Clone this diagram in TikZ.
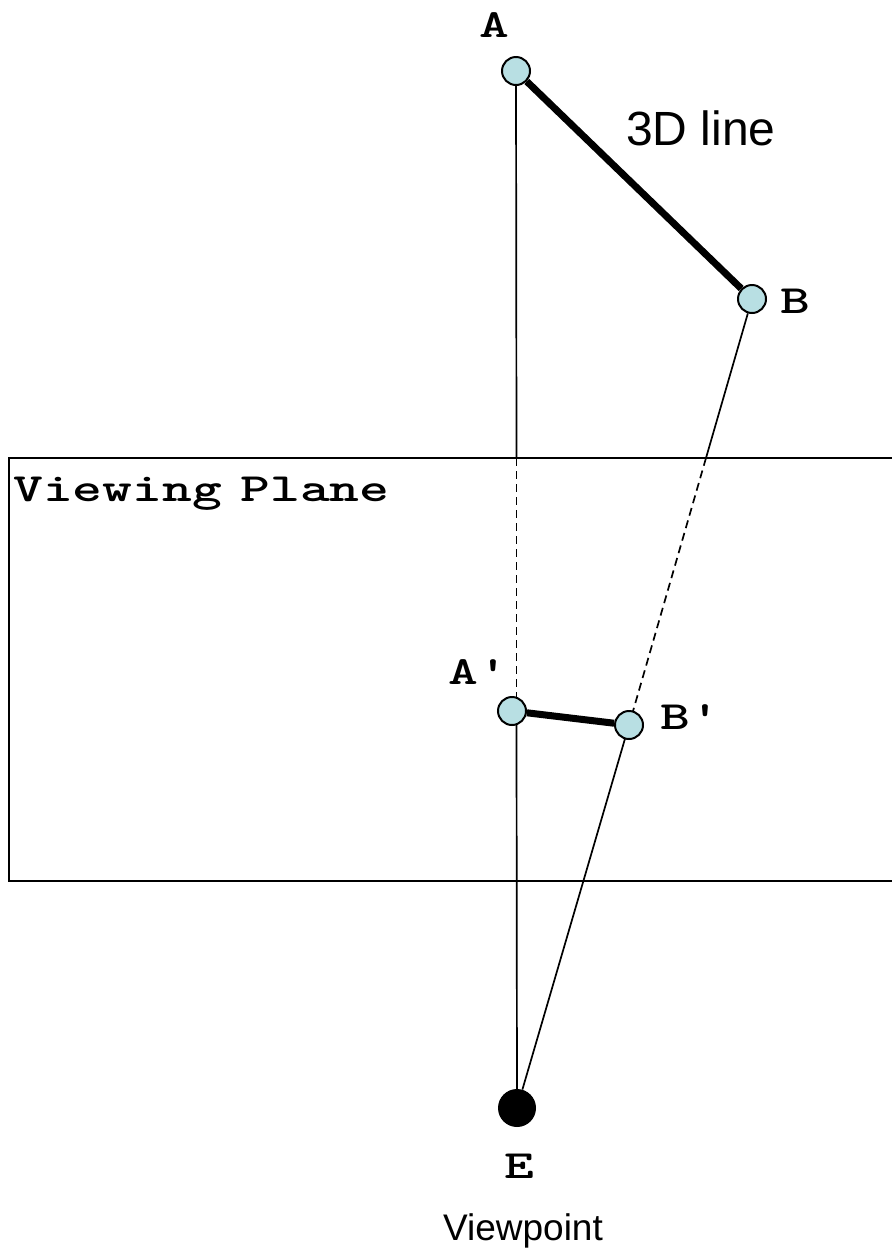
\documentclass[tikz,border=0pt]{standalone}
\usepackage{fontspec}
\setmainfont{Liberation Sans}
\definecolor{ptfill}{RGB}{184,223,227}
\begin{document}
\begin{tikzpicture}[x=1pt,y=-1pt,
 pt/.style={circle,draw=black,fill=ptfill,line width=2pt,minimum size=28pt,inner sep=0pt},
 eye/.style={circle,fill=black,minimum size=38pt,inner sep=0pt},
 thin line/.style={line width=1.7pt},
 dash line/.style={line width=1.7pt,dash pattern=on 8pt off 5pt},
 thick line/.style={line width=7pt},
 lab/.style={font=\ttfamily\bfseries\fontsize{40}{40}\selectfont\addfontfeature{FakeBold=1},inner sep=0pt,xscale=1.42},
 sans/.style={inner sep=0pt}]
\useasboundingbox (0,0) rectangle (892,1251);
\coordinate (ACross) at (516.5,458);
\coordinate (BCross) at (706,458);
\draw[thin line] (892,458) -- (9,458) -- (9,881) -- (892,881);
\node[eye] (E) at (517,1108) {};
\node[pt] (A) at (516,71) {};
\coordinate (Ap0) at (512,711);
\coordinate (Bp0) at (629,725);
\draw[thin line] (A) -- (ACross);
\draw[dash line] (ACross) -- (516.5,700);
\draw[thin line] (516.5,725) -- (E);
\node[pt] (B) at (752,299) {};
\draw[thin line] (B) -- (BCross);
\draw[dash line] (BCross) -- (Bp0);
\draw[thin line] (Bp0) -- (E);
\draw[thick line] (A) -- (B);
\node[pt] (Ap) at (Ap0) {};
\node[pt] (Bp) at (Bp0) {};
\draw[thick line] (Ap) -- (Bp);
\node[lab] (lA) at (494,25) {A};
\node[lab] (lB) at (795,301) {B};
\node[lab] (lAp) at (478,672) {A'};
\node[lab] (lBp) at (690,717) {B'};
\node[lab] (lE) at (519,1166) {E};
\node[lab,anchor=west] (lV) at (13,494) {Viewing\hspace{-8pt} Plane};
\node[sans,font=\fontsize{48}{48}\selectfont] (l3) at (701,128) {3D line};
\node[sans,font=\fontsize{37}{37}\selectfont] (lVp) at (523,1231) {Viewpoint};
\end{tikzpicture}
\end{document}
